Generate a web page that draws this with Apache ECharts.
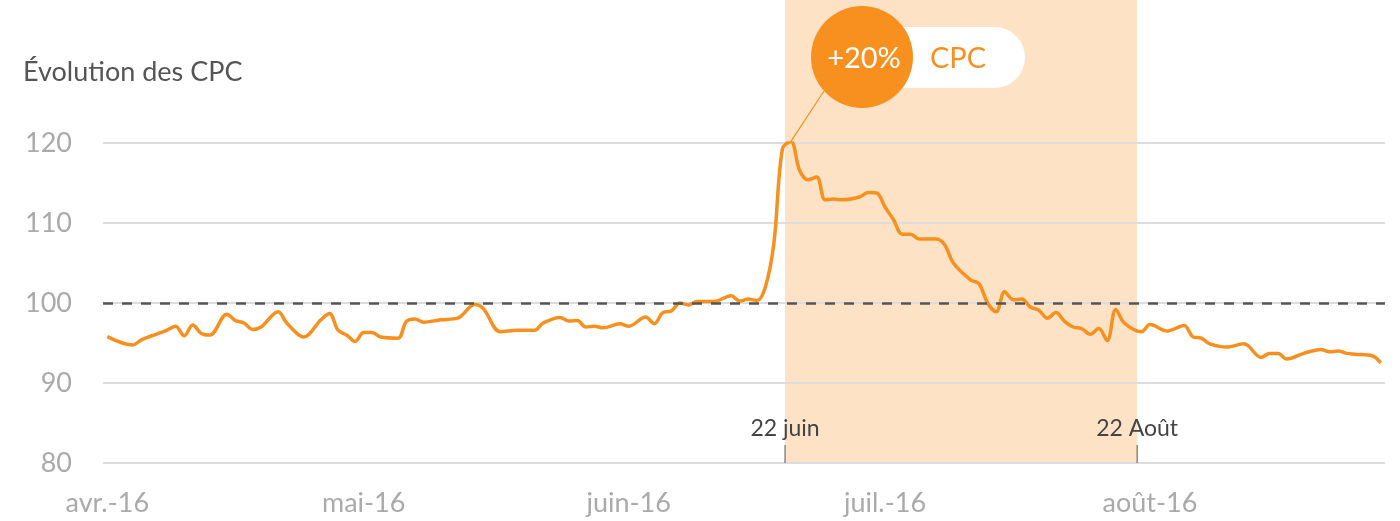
<!DOCTYPE html>
<html>
<head>
<meta charset="utf-8">
<script src="https://cdn.jsdelivr.net/npm/echarts@6/dist/echarts.min.js"></script>
<style>
html, body { margin: 0; padding: 0; background: #fff; }
#chart { width: 1400px; height: 521px; }
</style>
</head>
<body>
<div id="chart"></div>
<script>
// jours depuis le 1er avril 2016
var days = [0, 3, 4, 6, 7, 8, 9, 10, 11, 12, 14, 15, 16, 17, 18, 20, 21, 23, 25, 26,
    27, 28, 29, 30, 31, 32, 34, 35, 36, 37, 39, 41, 43, 44, 46, 48, 50, 51, 53, 54,
    55, 56, 57, 58, 60, 61, 63, 64, 65, 66, 67, 68, 69, 71, 73, 74, 75, 76, 77, 78,
    79, 80, 81, 82, 83, 84, 85, 86, 88, 89, 90, 91, 92, 93, 94, 95, 97, 98, 99, 101,
    102, 103, 104, 105, 106, 107, 108, 109, 110, 111, 112, 113, 114, 115, 116, 117, 118, 119, 121, 122,
    124, 126, 127, 128, 129, 131, 133, 135, 136, 137, 138, 140, 142, 143, 144, 145, 146, 148, 149];
var cpc = [95.8, 94.75, 95.4, 96.2, 96.6, 97.1, 95.9, 97.25, 96.2, 96.0, 98.6, 97.8, 97.5, 96.7, 97.0, 98.9, 97.5, 95.75, 97.9, 98.7,
    96.6, 96.0, 95.2, 96.3, 96.3, 95.75, 95.6, 97.7, 98.0, 97.6, 97.9, 98.1, 99.8, 99.3, 96.4, 96.6, 96.6, 97.5, 98.2, 97.75,
    97.8, 97.0, 97.1, 96.9, 97.4, 97.1, 98.25, 97.4, 98.8, 99.0, 100.0, 99.75, 100.2, 100.2, 100.9, 100.25, 100.5, 100.3, 102.0, 107.5,
    119.3, 120.2, 116.6, 115.4, 115.75, 112.9, 113.0, 112.9, 113.25, 113.8, 113.75, 112.0, 110.4, 108.6, 108.6, 108.0, 108.0, 107.25, 105.0, 102.9,
    102.4, 100.0, 98.9, 101.4, 100.4, 100.5, 99.5, 99.1, 98.1, 98.8, 97.7, 97.0, 96.8, 96.1, 96.8, 95.3, 99.2, 97.5, 96.4, 97.3,
    96.5, 97.2, 95.8, 95.6, 94.9, 94.5, 94.9, 93.2, 93.7, 93.7, 93.0, 93.7, 94.2, 93.9, 94.0, 93.7, 93.6, 93.4, 92.5];

var monthDays = [0, 30, 61, 91, 122];
var monthLabels = ['avr.-16', 'mai-16', 'juin-16', 'juil.-16', 'août-16'];

var bandStart = 79.3;   // 22 juin
var bandEnd = 120.5;    // 22 août
var bandLabels = ['22 juin', '22 Août'];
var peakDay = 80, peakValue = 120.2;

var orange = '#f7901e';
var font = 'Lato, "Noto Sans", sans-serif';

var chart = echarts.init(document.getElementById('chart'));

var points = [];
for (var i = 0; i < days.length; i++) {
    points.push([days[i], cpc[i]]);
}

var option = {
    animation: false,
    title: {
        text: 'Évolution des CPC',
        left: 18,
        top: 54,
        textStyle: { fontFamily: font, fontSize: 27, fontWeight: 'normal', color: '#555' }
    },
    grid: { left: 103, right: 15, top: 143, bottom: 58, containLabel: false, outerBoundsMode: 'none' },
    xAxis: {
        type: 'value',
        min: -0.5,
        max: 149.5,
        axisLine: { show: false },
        axisTick: { show: false },
        splitLine: { show: false },
        axisLabel: {
            customValues: monthDays,
            margin: 27,
            fontFamily: font,
            fontSize: 27,
            color: '#aaa',
            formatter: function (v) {
                var k = monthDays.indexOf(v);
                return k >= 0 ? monthLabels[k] : '';
            }
        }
    },
    yAxis: {
        type: 'value',
        min: 80,
        max: 120,
        interval: 10,
        axisLine: { show: false },
        axisTick: { show: false },
        axisLabel: { margin: 31, fontFamily: font, fontSize: 27, color: '#aaa' },
        splitLine: { lineStyle: { color: '#dddddd', width: 2 } }
    },
    series: [{
        type: 'line',
        data: points,
        smooth: 0.35,
        showSymbol: false,
        lineStyle: { color: orange, width: 3.5 },
        markLine: {
            silent: true,
            symbol: 'none',
            label: { show: false },
            lineStyle: { color: '#555', width: 2.5, type: [10, 9] },
            data: [{ yAxis: 100 }]
        }
    }]
};
chart.setOption(option);

// annotations positionnées d'après les axes
var x1 = chart.convertToPixel({ xAxisIndex: 0 }, bandStart);
var x2 = chart.convertToPixel({ xAxisIndex: 0 }, bandEnd);
var yBase = chart.convertToPixel({ yAxisIndex: 0 }, 80);
var peak = chart.convertToPixel({ gridIndex: 0 }, [peakDay, peakValue]);

var circle = { x: 862, y: 57, r: 51 };

chart.setOption({
    graphic: [
        {
            type: 'rect', z: -1, silent: true,
            shape: { x: x1, y: 0, width: x2 - x1, height: yBase },
            style: { fill: '#fde2c5' }
        },
        {
            type: 'line', z: 5,
            shape: { x1: x1, y1: yBase - 18, x2: x1, y2: yBase },
            style: { stroke: '#555', lineWidth: 1 }
        },
        {
            type: 'line', z: 5,
            shape: { x1: x2, y1: yBase - 18, x2: x2, y2: yBase },
            style: { stroke: '#555', lineWidth: 1 }
        },
        {
            type: 'text', z: 5,
            x: x1, y: yBase - 34,
            style: { text: bandLabels[0], fill: '#444', font: '23px ' + font, align: 'center', verticalAlign: 'middle' }
        },
        {
            type: 'text', z: 5,
            x: x2, y: yBase - 34,
            style: { text: bandLabels[1], fill: '#444', font: '23px ' + font, align: 'center', verticalAlign: 'middle' }
        },
        {
            type: 'line', z: 5,
            shape: { x1: peak[0], y1: peak[1], x2: circle.x - 38, y2: circle.y + 34 },
            style: { stroke: orange, lineWidth: 1.2 }
        },
        {
            type: 'rect', z: 5,
            shape: { x: circle.x, y: 27, width: 163, height: 61, r: 30.5 },
            style: { fill: '#fff' }
        },
        {
            type: 'circle', z: 6,
            shape: { cx: circle.x, cy: circle.y, r: circle.r },
            style: { fill: orange }
        },
        {
            type: 'text', z: 7,
            x: circle.x + 2, y: 59,
            style: { text: '+20%', fill: '#fff', font: '29px ' + font, align: 'center', verticalAlign: 'middle' }
        },
        {
            type: 'text', z: 7,
            x: 958, y: 59,
            style: { text: 'CPC', fill: orange, font: '29px ' + font, align: 'center', verticalAlign: 'middle' }
        }
    ]
});

window.addEventListener('resize', function () {
    chart.resize();
});
</script>
</body>
</html>
